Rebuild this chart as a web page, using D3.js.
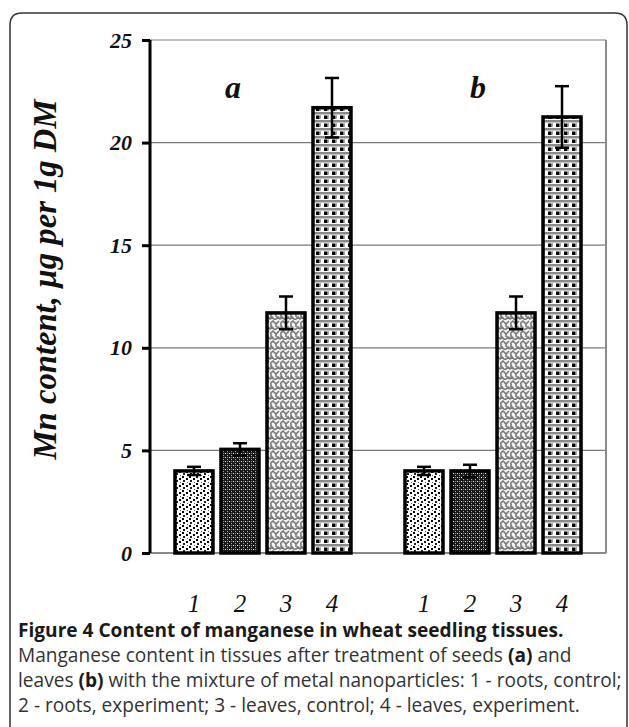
<!DOCTYPE html>
<html>
<head>
<meta charset="utf-8">
<script src="https://cdn.jsdelivr.net/npm/d3@7"></script>
<style>
  body { margin: 0; background: #fff; }
  svg { display: block; }
</style>
</head>
<body>
<svg width="629" height="727"></svg>
<script>
const svg = d3.select("svg");

// data
const slots = ["a1", "a2", "a3", "a4", "gap", "b1", "b2", "b3", "b4"];
const barKeys = ["a1", "a2", "a3", "a4", "b1", "b2", "b3", "b4"];
const barLabels = ["1", "2", "3", "4", "1", "2", "3", "4"];
const barValues = [4.0, 5.05, 11.7, 21.7, 4.0, 4.0, 11.7, 21.25];
const barErrors = [0.2, 0.3, 0.8, 1.45, 0.2, 0.3, 0.8, 1.5];
const barPattern = [1, 2, 3, 4, 1, 2, 3, 4];
const groupLabels = ["a", "b"];
const groupLabelKeys = ["a2", "b2"];
const groupLabelShift = [-7, 8];
const yTicks = [0, 5, 10, 15, 20, 25];
const captionTitle = "Figure 4 Content of manganese in wheat seedling tissues.";
const yTitle = "Mn content, \u00b5g per  1g DM";

const x0 = 150, x1 = 606, yTop = 40, yBot = 553;

const x = d3.scaleBand().domain(slots).range([x0, x1])
    .paddingInner(0.174).paddingOuter(0.543);
const y = d3.scaleLinear().domain([0, 25]).range([yBot, yTop]);

// outer rounded frame
svg.append("path")
    .attr("d", "M10,740 L10,25 Q10,13 22,13 L615,13 Q627,13 627,25 L627,740")
    .attr("fill", "none")
    .attr("stroke", "#333")
    .attr("stroke-width", 1.5);

// patterns
const defs = svg.append("defs");

let p1 = defs.append("pattern").attr("id", "p1").attr("patternUnits", "userSpaceOnUse")
    .attr("width", 7).attr("height", 7);
p1.append("rect").attr("width", 7).attr("height", 7).attr("fill", "#fff");
p1.append("rect").attr("x", 0).attr("y", 0).attr("width", 2).attr("height", 2).attr("fill", "#000");
p1.append("rect").attr("x", 4).attr("y", 2).attr("width", 2).attr("height", 2).attr("fill", "#000");
p1.append("rect").attr("x", 1).attr("y", 4).attr("width", 2).attr("height", 2).attr("fill", "#222");
p1.append("rect").attr("x", 5).attr("y", 6).attr("width", 1).attr("height", 1).attr("fill", "#555");

let p2 = defs.append("pattern").attr("id", "p2").attr("patternUnits", "userSpaceOnUse")
    .attr("width", 4).attr("height", 4);
p2.append("rect").attr("width", 4).attr("height", 4).attr("fill", "#1a1a1a");
p2.append("rect").attr("x", 1).attr("y", 1).attr("width", 1).attr("height", 1).attr("fill", "#eee");
p2.append("rect").attr("x", 3).attr("y", 3).attr("width", 1).attr("height", 1).attr("fill", "#aaa");
p2.append("rect").attr("x", 3).attr("y", 1).attr("width", 1).attr("height", 1).attr("fill", "#888");

let p3 = defs.append("pattern").attr("id", "p3").attr("patternUnits", "userSpaceOnUse")
    .attr("width", 10).attr("height", 10);
p3.append("rect").attr("width", 10).attr("height", 10).attr("fill", "#f2f2f2");
p3.append("path").attr("d", "M0,4 L3,1 L6,4 L9,1 M-1,10 L2,7 L5,10 L8,7 L11,10 M1,4 L1,7 M6,4 L6,7")
    .attr("fill", "none").attr("stroke", "#7a7a7a").attr("stroke-width", 1.6);

let p4 = defs.append("pattern").attr("id", "p4").attr("patternUnits", "userSpaceOnUse")
    .attr("width", 8).attr("height", 8);
p4.append("rect").attr("width", 8).attr("height", 8).attr("fill", "#fff");
p4.append("rect").attr("x", 0).attr("y", 0).attr("width", 8).attr("height", 2.5).attr("fill", "#8a8a8a");
p4.append("rect").attr("x", 4).attr("y", 3.5).attr("width", 3.5).attr("height", 3.5).attr("fill", "#000");
p4.append("rect").attr("x", 0).attr("y", 3).attr("width", 1).attr("height", 4).attr("fill", "#aaa");

// gridlines + frame
svg.append("g").selectAll("line")
    .data(yTicks.filter(d => d > 0))
    .join("line")
    .attr("x1", x0).attr("x2", x1)
    .attr("y1", d => y(d)).attr("y2", d => y(d))
    .attr("stroke", "#7a7a7a").attr("stroke-width", 1.2);

svg.append("line").attr("x1", x1).attr("x2", x1).attr("y1", y(25)).attr("y2", y(0))
    .attr("stroke", "#8a8a8a").attr("stroke-width", 2);
svg.append("line").attr("x1", x0).attr("x2", x1).attr("y1", y(0)).attr("y2", y(0))
    .attr("stroke", "#8a8a8a").attr("stroke-width", 2);

// y axis
const yAxis = svg.append("g")
    .attr("transform", `translate(${x0},0)`)
    .call(d3.axisLeft(y).tickValues(yTicks).tickSize(8).tickPadding(10));
yAxis.select(".domain").attr("stroke", "#000").attr("stroke-width", 3)
    .attr("d", `M0,${y(25)}V${y(0)}`);
yAxis.selectAll(".tick line").attr("stroke", "#000").attr("stroke-width", 3);
yAxis.selectAll(".tick text")
    .attr("font-family", "'Liberation Serif', 'Times New Roman', serif")
    .attr("font-style", "italic")
    .attr("font-weight", "bold")
    .attr("font-size", 22)
    .attr("fill", "#111");

// y title, sized to span the reference length
const yt = svg.append("text")
    .attr("transform", `translate(56,${(y(25) + y(0)) / 2 - 17}) rotate(-90)`)
    .attr("text-anchor", "middle")
    .attr("font-family", "'Liberation Serif', 'Times New Roman', serif")
    .attr("font-style", "italic")
    .attr("font-weight", "bold")
    .attr("font-size", 26)
    .attr("fill", "#111")
    .text(yTitle);
const ytw = yt.node().getComputedTextLength();
yt.attr("font-size", 26 * 360 / ytw);

// bars
const bars = svg.append("g");
bars.selectAll("rect")
    .data(barKeys)
    .join("rect")
    .attr("x", d => x(d))
    .attr("width", x.bandwidth())
    .attr("y", (d, i) => y(barValues[i]))
    .attr("height", (d, i) => y(0) - y(barValues[i]))
    .attr("fill", (d, i) => `url(#p${barPattern[i]})`)
    .attr("stroke", "#000")
    .attr("stroke-width", 3.5);

// error bars
const err = svg.append("g").attr("stroke", "#000").attr("stroke-width", 2.5);
barKeys.forEach((k, i) => {
    const cx = x(k) + x.bandwidth() / 2;
    const hi = y(barValues[i] + barErrors[i]);
    const lo = y(barValues[i] - barErrors[i]);
    err.append("line").attr("x1", cx).attr("x2", cx).attr("y1", hi).attr("y2", lo);
    err.append("line").attr("x1", cx - 7).attr("x2", cx + 7).attr("y1", hi).attr("y2", hi);
    err.append("line").attr("x1", cx - 7).attr("x2", cx + 7).attr("y1", lo).attr("y2", lo);
});

// x labels
svg.append("g").selectAll("text")
    .data(barKeys)
    .join("text")
    .attr("x", d => x(d) + x.bandwidth() / 2)
    .attr("y", 612)
    .attr("text-anchor", "middle")
    .attr("font-family", "'Liberation Serif', 'Times New Roman', serif")
    .attr("font-style", "italic")
    .attr("font-size", 25)
    .attr("fill", "#111")
    .text((d, i) => barLabels[i]);

// group labels
svg.append("g").selectAll("text")
    .data(groupLabels)
    .join("text")
    .attr("x", (d, i) => x(groupLabelKeys[i]) + x.bandwidth() / 2 + groupLabelShift[i])
    .attr("y", 98)
    .attr("text-anchor", "middle")
    .attr("font-family", "'Liberation Serif', 'Times New Roman', serif")
    .attr("font-style", "italic")
    .attr("font-weight", "bold")
    .attr("font-size", 32)
    .attr("fill", "#111")
    .text(d => d);

// caption
const cap = svg.append("g")
    .attr("font-family", "'Open Sans', 'Noto Sans', sans-serif")
    .attr("font-size", 15.5)
    .attr("fill", "#333");

cap.append("text").attr("x", 18).attr("y", 637)
    .attr("font-weight", "bold").attr("fill", "#1a1a1a")
    .text(captionTitle);

const l2 = cap.append("text").attr("x", 18).attr("y", 662);
l2.append("tspan").text("Manganese content in tissues after treatment of seeds ");
l2.append("tspan").attr("font-weight", "bold").attr("fill", "#1a1a1a").text("(a)");
l2.append("tspan").text(" and");

const l3 = cap.append("text").attr("x", 18).attr("y", 687);
l3.append("tspan").text("leaves ");
l3.append("tspan").attr("font-weight", "bold").attr("fill", "#1a1a1a").text("(b)");
l3.append("tspan").text(" with the mixture of metal nanoparticles: 1 - roots, control;");

cap.append("text").attr("x", 18).attr("y", 712)
    .text("2 - roots, experiment; 3 - leaves, control; 4 - leaves, experiment.");

// fit caption width to the longest line (ends near x = 622)
const w3 = l3.node().getComputedTextLength();
cap.attr("font-size", 15.5 * 604 / w3);
</script>
</body>
</html>
